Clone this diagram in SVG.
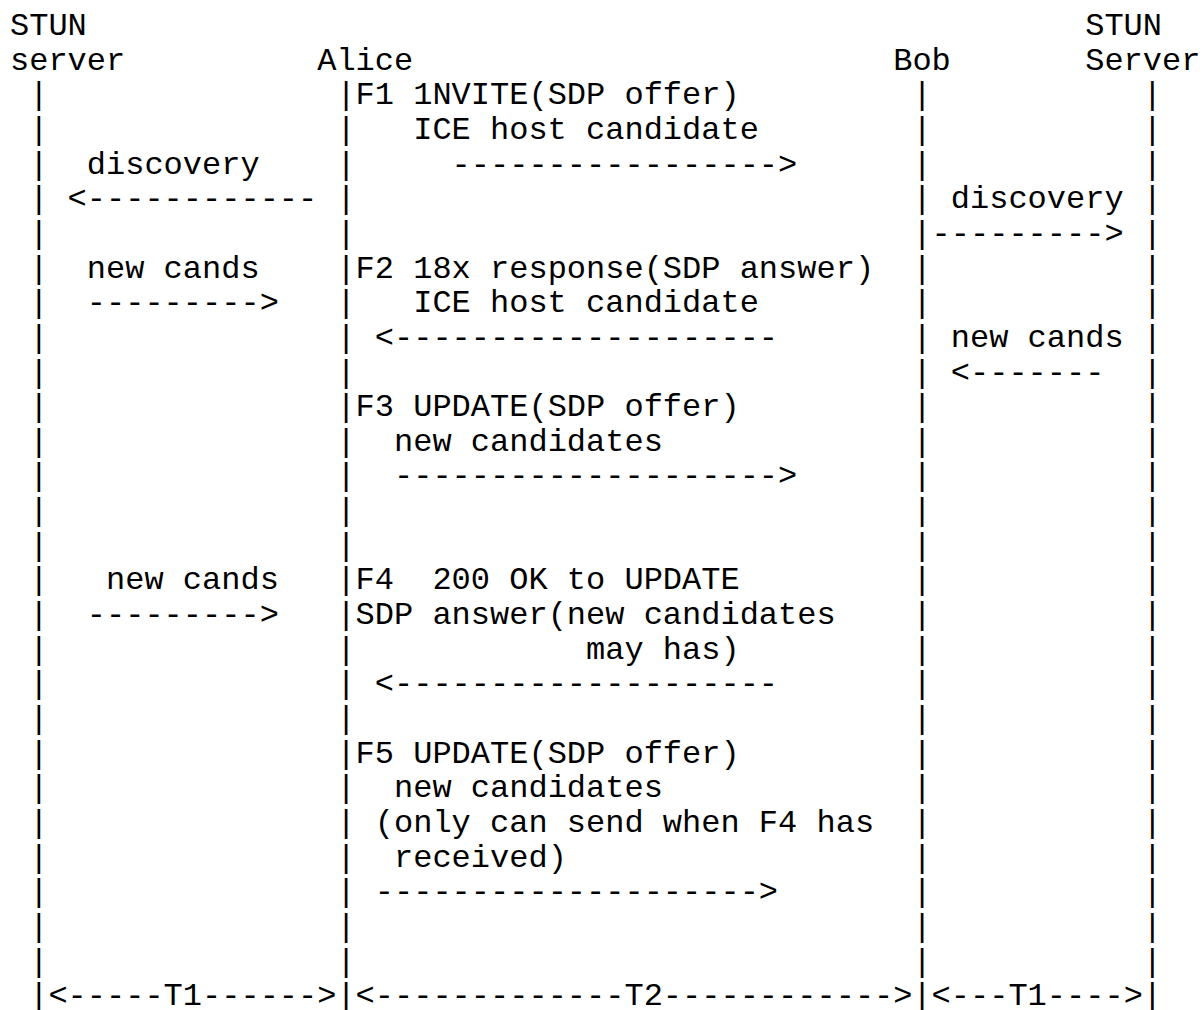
<svg xmlns="http://www.w3.org/2000/svg" width="1202" height="1010" viewBox="0 0 1202 1010">
<style>
text{font-family:"Liberation Mono","DejaVu Sans Mono",monospace;font-size:32px;fill:#000;white-space:pre}
</style>
<rect x="0" y="0" width="1202" height="1010" fill="#fff"/>
<g id="stun-left">
<text x="10" y="35">STUN</text>
<text x="10" y="69.65">server</text>
<text x="29.2" y="104.3">|<tspan x="29.2" dy="34.65">|</tspan><tspan x="29.2" dy="34.65">|</tspan><tspan x="29.2" dy="34.65">|</tspan><tspan x="29.2" dy="34.65">|</tspan><tspan x="29.2" dy="34.65">|</tspan><tspan x="29.2" dy="34.65">|</tspan><tspan x="29.2" dy="34.65">|</tspan><tspan x="29.2" dy="34.65">|</tspan><tspan x="29.2" dy="34.65">|</tspan><tspan x="29.2" dy="34.65">|</tspan><tspan x="29.2" dy="34.65">|</tspan><tspan x="29.2" dy="34.65">|</tspan><tspan x="29.2" dy="34.65">|</tspan><tspan x="29.2" dy="34.65">|</tspan><tspan x="29.2" dy="34.65">|</tspan><tspan x="29.2" dy="34.65">|</tspan><tspan x="29.2" dy="34.65">|</tspan><tspan x="29.2" dy="34.65">|</tspan><tspan x="29.2" dy="34.65">|</tspan><tspan x="29.2" dy="34.65">|</tspan><tspan x="29.2" dy="34.65">|</tspan><tspan x="29.2" dy="34.65">|</tspan><tspan x="29.2" dy="34.65">|</tspan><tspan x="29.2" dy="34.65">|</tspan><tspan x="29.2" dy="34.65">|</tspan><tspan x="29.2" dy="34.65">|</tspan></text>
</g>
<g id="alice">
<text x="317.2" y="69.65">Alice</text>
<text x="336.4" y="104.3">|<tspan x="336.4" dy="34.65">|</tspan><tspan x="336.4" dy="34.65">|</tspan><tspan x="336.4" dy="34.65">|</tspan><tspan x="336.4" dy="34.65">|</tspan><tspan x="336.4" dy="34.65">|</tspan><tspan x="336.4" dy="34.65">|</tspan><tspan x="336.4" dy="34.65">|</tspan><tspan x="336.4" dy="34.65">|</tspan><tspan x="336.4" dy="34.65">|</tspan><tspan x="336.4" dy="34.65">|</tspan><tspan x="336.4" dy="34.65">|</tspan><tspan x="336.4" dy="34.65">|</tspan><tspan x="336.4" dy="34.65">|</tspan><tspan x="336.4" dy="34.65">|</tspan><tspan x="336.4" dy="34.65">|</tspan><tspan x="336.4" dy="34.65">|</tspan><tspan x="336.4" dy="34.65">|</tspan><tspan x="336.4" dy="34.65">|</tspan><tspan x="336.4" dy="34.65">|</tspan><tspan x="336.4" dy="34.65">|</tspan><tspan x="336.4" dy="34.65">|</tspan><tspan x="336.4" dy="34.65">|</tspan><tspan x="336.4" dy="34.65">|</tspan><tspan x="336.4" dy="34.65">|</tspan><tspan x="336.4" dy="34.65">|</tspan><tspan x="336.4" dy="34.65">|</tspan></text>
</g>
<g id="bob">
<text x="893.2" y="69.65">Bob</text>
<text x="912.4" y="104.3">|<tspan x="912.4" dy="34.65">|</tspan><tspan x="912.4" dy="34.65">|</tspan><tspan x="912.4" dy="34.65">|</tspan><tspan x="912.4" dy="34.65">|</tspan><tspan x="912.4" dy="34.65">|</tspan><tspan x="912.4" dy="34.65">|</tspan><tspan x="912.4" dy="34.65">|</tspan><tspan x="912.4" dy="34.65">|</tspan><tspan x="912.4" dy="34.65">|</tspan><tspan x="912.4" dy="34.65">|</tspan><tspan x="912.4" dy="34.65">|</tspan><tspan x="912.4" dy="34.65">|</tspan><tspan x="912.4" dy="34.65">|</tspan><tspan x="912.4" dy="34.65">|</tspan><tspan x="912.4" dy="34.65">|</tspan><tspan x="912.4" dy="34.65">|</tspan><tspan x="912.4" dy="34.65">|</tspan><tspan x="912.4" dy="34.65">|</tspan><tspan x="912.4" dy="34.65">|</tspan><tspan x="912.4" dy="34.65">|</tspan><tspan x="912.4" dy="34.65">|</tspan><tspan x="912.4" dy="34.65">|</tspan><tspan x="912.4" dy="34.65">|</tspan><tspan x="912.4" dy="34.65">|</tspan><tspan x="912.4" dy="34.65">|</tspan><tspan x="912.4" dy="34.65">|</tspan></text>
</g>
<g id="stun-right">
<text x="1085.2" y="35">STUN</text>
<text x="1085.2" y="69.65">Server</text>
<text x="1142.8" y="104.3">|<tspan x="1142.8" dy="34.65">|</tspan><tspan x="1142.8" dy="34.65">|</tspan><tspan x="1142.8" dy="34.65">|</tspan><tspan x="1142.8" dy="34.65">|</tspan><tspan x="1142.8" dy="34.65">|</tspan><tspan x="1142.8" dy="34.65">|</tspan><tspan x="1142.8" dy="34.65">|</tspan><tspan x="1142.8" dy="34.65">|</tspan><tspan x="1142.8" dy="34.65">|</tspan><tspan x="1142.8" dy="34.65">|</tspan><tspan x="1142.8" dy="34.65">|</tspan><tspan x="1142.8" dy="34.65">|</tspan><tspan x="1142.8" dy="34.65">|</tspan><tspan x="1142.8" dy="34.65">|</tspan><tspan x="1142.8" dy="34.65">|</tspan><tspan x="1142.8" dy="34.65">|</tspan><tspan x="1142.8" dy="34.65">|</tspan><tspan x="1142.8" dy="34.65">|</tspan><tspan x="1142.8" dy="34.65">|</tspan><tspan x="1142.8" dy="34.65">|</tspan><tspan x="1142.8" dy="34.65">|</tspan><tspan x="1142.8" dy="34.65">|</tspan><tspan x="1142.8" dy="34.65">|</tspan><tspan x="1142.8" dy="34.65">|</tspan><tspan x="1142.8" dy="34.65">|</tspan><tspan x="1142.8" dy="34.65">|</tspan></text>
</g>
<g id="connectors">
<text x="355.6" y="104.3">F1 1NVITE(SDP offer)</text>
<text x="413.2" y="138.95">ICE host candidate</text>
<text x="86.8" y="173.6">discovery</text>
<text x="451.6" y="173.6">-----------------&gt;</text>
<text x="67.6" y="208.25">&lt;------------</text>
<text x="950.8" y="208.25">discovery</text>
<text x="931.6" y="242.9">---------&gt;</text>
<text x="86.8" y="277.55">new cands</text>
<text x="355.6" y="277.55">F2 18x response(SDP answer)</text>
<text x="86.8" y="312.2">---------&gt;</text>
<text x="413.2" y="312.2">ICE host candidate</text>
<text x="374.8" y="346.85">&lt;--------------------</text>
<text x="950.8" y="346.85">new cands</text>
<text x="950.8" y="381.5">&lt;-------</text>
<text x="355.6" y="416.15">F3 UPDATE(SDP offer)</text>
<text x="394" y="450.8">new candidates</text>
<text x="394" y="485.45">--------------------&gt;</text>
<text x="106" y="589.4">new cands</text>
<text x="355.6" y="589.4">F4<tspan x="432.4">200 OK to UPDATE</tspan></text>
<text x="86.8" y="624.05">---------&gt;</text>
<text x="355.6" y="624.05">SDP answer(new candidates</text>
<text x="586" y="658.7">may has)</text>
<text x="374.8" y="693.35">&lt;--------------------</text>
<text x="355.6" y="762.65">F5 UPDATE(SDP offer)</text>
<text x="394" y="797.3">new candidates</text>
<text x="374.8" y="831.95">(only can send when F4 has</text>
<text x="394" y="866.6">received)</text>
<text x="374.8" y="901.25">--------------------&gt;</text>
<text x="48.4" y="1005.2">&lt;-----T1------&gt;</text>
<text x="355.6" y="1005.2">&lt;-------------T2------------&gt;</text>
<text x="931.6" y="1005.2">&lt;---T1----&gt;</text>
</g>
</svg>
